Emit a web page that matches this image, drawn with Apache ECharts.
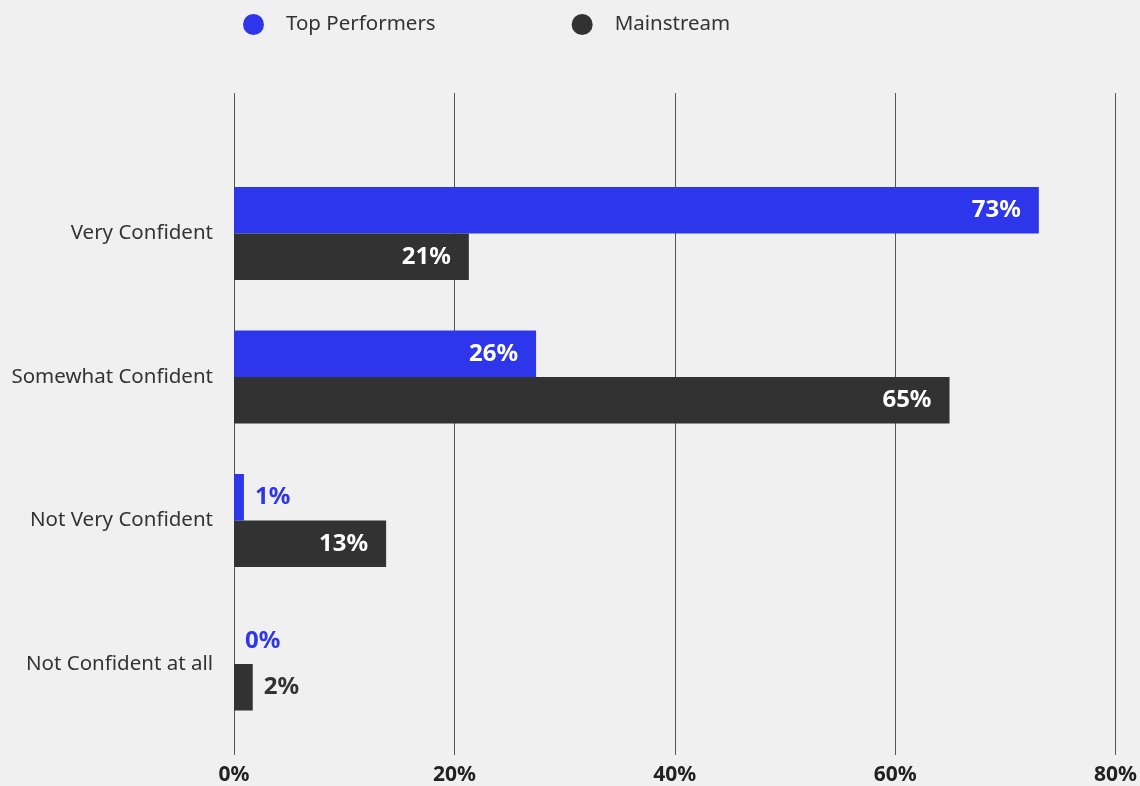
<!DOCTYPE html>
<html>
<head>
<meta charset="utf-8">
<title>Confidence chart</title>
<script src="https://cdn.jsdelivr.net/npm/echarts@6/dist/echarts.min.js"></script>
<style>
  html, body { margin: 0; padding: 0; background: #f0f0f0; }
  #chart { width: 1140px; height: 786px; }
</style>
</head>
<body>
<div id="chart"></div>
<script>
const categories = ['Very Confident', 'Somewhat Confident', 'Not Very Confident', 'Not Confident at all']
const seriesNames = ['Top Performers', 'Mainstream']
// bar lengths (percent)
const topPerformers = [73, 27.4, 0.9, 0]
const mainstream = [21.3, 64.9, 13.8, 1.7]
// printed labels on the bars
const topLabels = ['73%', '26%', '1%', '0%']
const mainLabels = ['21%', '65%', '13%', '2%']
const xTicks = [0, 20, 40, 60, 80]

const colors = { blue: '#2d36ea', dark: '#333232', text: '#333333' }
const font = '"Noto Sans", sans-serif'

const chart = echarts.init(document.getElementById('chart'))

// big bars get a white label inside, small ones a coloured label outside
const buildData = (values, labels, color) => values.map((v, i) => ({
  value: v,
  label: v >= 5
    ? { show: true, position: 'insideRight', distance: 18, color: '#fff', formatter: labels[i] }
    : { show: true, position: 'right', distance: 11, color: color, formatter: labels[i] }
}))

const labelStyle = { fontFamily: font, fontSize: 24, fontWeight: 'bold' }

const option = {
  backgroundColor: '#f0f0f0',
  animation: false,
  legend: {
    left: 238,
    top: 9,
    icon: 'circle',
    itemWidth: 21,
    itemHeight: 21,
    itemGap: 136,
    textStyle: { fontFamily: font, fontSize: 20.5, color: colors.text, padding: [0, 0, 0, 17] },
    data: seriesNames
  },
  grid: [
    // grid only for the vertical lines and the % labels
    { left: 234, width: 882, top: 93, height: 663 },
    // grid with the bars
    { left: 234, width: 882, top: 161.75, height: 574 }
  ],
  xAxis: [
    {
      gridIndex: 0,
      type: 'value',
      min: xTicks[0],
      max: xTicks[xTicks.length - 1],
      interval: 20,
      axisLine: { show: false },
      axisTick: { show: false },
      splitLine: { show: true, lineStyle: { color: '#555', width: 1 } },
      axisLabel: {
        margin: 10,
        fontFamily: font,
        fontSize: 21,
        fontWeight: 'bold',
        color: '#222',
        formatter: '{value}%'
      }
    },
    {
      gridIndex: 1,
      type: 'value',
      min: xTicks[0],
      max: xTicks[xTicks.length - 1],
      show: false,
      splitLine: { show: false }
    }
  ],
  yAxis: [
    {
      gridIndex: 0,
      type: 'category',
      data: [''],
      show: false
    },
    {
      gridIndex: 1,
      type: 'category',
      inverse: true,
      data: categories,
      axisLine: { show: false },
      axisTick: { show: false },
      splitLine: { show: false },
      axisLabel: { margin: 21, fontFamily: font, fontSize: 20.5, color: colors.text }
    }
  ],
  series: [
    {
      name: seriesNames[0],
      type: 'bar',
      xAxisIndex: 1,
      yAxisIndex: 1,
      barWidth: 46.5,
      barGap: '0%',
      itemStyle: { color: colors.blue },
      label: labelStyle,
      data: buildData(topPerformers, topLabels, colors.blue)
    },
    {
      name: seriesNames[1],
      type: 'bar',
      xAxisIndex: 1,
      yAxisIndex: 1,
      barWidth: 46.5,
      barGap: '0%',
      itemStyle: { color: colors.dark },
      label: labelStyle,
      data: buildData(mainstream, mainLabels, colors.dark)
    }
  ]
}

chart.setOption(option)
window.addEventListener('resize', () => chart.resize())
</script>
</body>
</html>
